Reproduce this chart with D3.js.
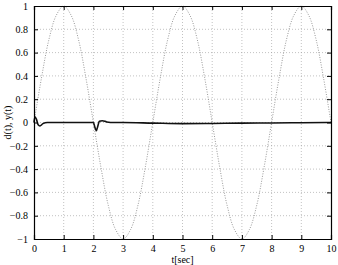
<!DOCTYPE html>
<html><head><meta charset="utf-8">
<script src="https://cdn.jsdelivr.net/npm/d3@7"></script>
<style>body{margin:0;background:#fff}svg{display:block}</style>
</head><body>
<script>
// reference d(t): sampled every 0.25 s
const dTimes = d3.range(0, 10.001, 0.25);
const dValues = [0,0.38,0.71,0.92,1,0.92,0.71,0.38,0,-0.38,-0.71,-0.92,-1,-0.92,-0.71,-0.38,
 0,0.38,0.71,0.92,1,0.92,0.71,0.38,0,-0.38,-0.71,-0.92,-1,-0.92,-0.71,-0.38,
 0,0.38,0.71,0.92,1,0.92,0.71,0.38,0];
// output y(t)
const yTimes =  [0,0.03,0.08,0.14,0.2,0.3,0.45,0.7,1,1.5,2.0,2.05,2.1,2.15,2.2,2.3,2.45,2.7,3,4,5,6,7,8,9,10];
const yValues = [0,0.05,0.03,-0.02,-0.03,-0.01,0,0,0,0,0,-0.04,-0.07,-0.03,0.01,0.015,0.005,0,0,-0.005,-0.01,-0.008,-0.005,-0.004,-0.002,0];
const xTicks = [0,1,2,3,4,5,6,7,8,9,10];
const yTicks = [-1,-0.8,-0.6,-0.4,-0.2,0,0.2,0.4,0.6,0.8,1];
const xLabel = "t[sec]", yLabel = "d(t), y(t)";

const W=338,H=265, m={l:34,r:7,t:6,b:26};
const svg=d3.select("body").append("svg").attr("width",W).attr("height",H);
const x=d3.scaleLinear().domain([0,10]).range([m.l,W-m.r]);
const y=d3.scaleLinear().domain([-1,1]).range([H-m.b,m.t]);
const fmt=v=>String(Math.round(v*10)/10).replace("-","\u2212");
const SERIF='"Liberation Serif"';

const grid=svg.append("g").attr("stroke","#999").attr("stroke-width",0.6).attr("stroke-dasharray","1,2");
xTicks.slice(1,-1).forEach(t=>grid.append("line").attr("x1",x(t)).attr("x2",x(t)).attr("y1",y(-1)).attr("y2",y(1)));
yTicks.slice(1,-1).forEach(t=>grid.append("line").attr("y1",y(t)).attr("y2",y(t)).attr("x1",x(0)).attr("x2",x(10)));

const line=d3.line().curve(d3.curveCatmullRom);
svg.append("path").attr("d",line(dTimes.map((t,i)=>[x(t),y(dValues[i])])))
 .attr("fill","none").attr("stroke","#999").attr("stroke-width",1).attr("stroke-dasharray","1,1.5");
svg.append("path").attr("d",d3.line().curve(d3.curveMonotoneX)(yTimes.map((t,i)=>[x(t),y(yValues[i])])))
 .attr("fill","none").attr("stroke","#111").attr("stroke-width",1.6);

// axes (ticks inward)
const ax=svg.append("g");
const xb=ax.append("g").attr("transform",`translate(0,${y(-1)})`).call(d3.axisBottom(x).tickValues(xTicks).tickSize(-4).tickPadding(6).tickFormat(d3.format("d")));
const xt=ax.append("g").attr("transform",`translate(0,${y(1)})`).call(d3.axisTop(x).tickValues(xTicks).tickSize(-4).tickFormat(""));
const yl=ax.append("g").attr("transform",`translate(${x(0)},0)`).call(d3.axisLeft(y).tickValues(yTicks).tickSize(-4).tickPadding(6).tickFormat(fmt));
const yr=ax.append("g").attr("transform",`translate(${x(10)},0)`).call(d3.axisRight(y).tickValues(yTicks).tickSize(-4).tickFormat(""));
[xb,xt,yl,yr].forEach(g=>{g.attr("font-family",null).attr("font-size",null);g.selectAll("path").attr("stroke","#000").attr("stroke-width",1.2);g.selectAll("line").attr("stroke","#000");g.selectAll("text").style("font-family",SERIF).style("font-size","10px").attr("fill","#000")});

svg.append("text").attr("x",(x(0)+x(10))/2).attr("y",263).attr("text-anchor","middle").style("font-family",SERIF).style("font-size","10px").text(xLabel);
svg.append("text").attr("transform",`translate(11,${y(0)}) rotate(-90)`).attr("text-anchor","middle").style("font-family",SERIF).style("font-size","10px").text(yLabel);
</script>
</body></html>
